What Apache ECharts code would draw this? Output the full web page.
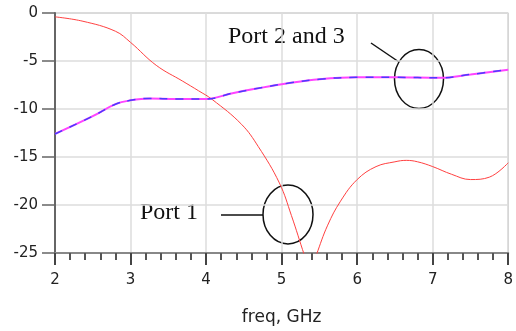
<!DOCTYPE html>
<html>
<head>
<meta charset="utf-8">
<script src="https://cdn.jsdelivr.net/npm/echarts@6/dist/echarts.min.js"></script>
<style>
  html, body { margin: 0; padding: 0; background: #fff; }
  #chart { width: 516px; height: 331px; }
</style>
</head>
<body>
<div id="chart"></div>
<script>
// Port 1 (red)
const port1Freq = [2, 2.37, 2.8, 3, 3.34, 3.69, 3.9, 4.08, 4.47, 4.69, 4.97, 5.13, 5.3, 5.38, 5.46, 5.61, 5.78, 6, 6.25, 6.5, 6.65, 6.8, 7, 7.25, 7.5, 7.75, 8];
const port1Vals = [-0.4, -0.86, -1.9, -3.06, -5.45, -7.1, -8.1, -9.0, -11.6, -13.9, -17.7, -21.1, -25.2, -27, -25.2, -22.1, -19.6, -17.35, -16, -15.5, -15.35, -15.5, -16.0, -16.8, -17.35, -17.1, -15.6];
// Port 2 and 3 (magenta / blue, overlapping)
const port23Freq = [2, 2.5, 2.8, 3, 3.25, 3.6, 4, 4.35, 4.65, 5.1, 5.5, 6, 6.5, 7.1, 7.5, 8];
const port23Vals = [-12.6, -10.75, -9.5, -9.1, -8.9, -8.95, -8.95, -8.35, -7.9, -7.3, -6.9, -6.7, -6.7, -6.75, -6.4, -5.9];

const zip = (xs, ys) => xs.map((x, i) => [x, ys[i]]);

const chart = echarts.init(document.getElementById('chart'));

const option = {
  animation: false,
  backgroundColor: '#fff',
  grid: { left: 55, right: 4, top: 13, bottom: 72, show: true, borderColor: '#aaa', borderWidth: 1 },
  xAxis: {
    type: 'value',
    min: 2, max: 8, interval: 1,
    name: 'freq, GHz',
    nameLocation: 'middle',
    nameGap: 56,
    nameTextStyle: { fontFamily: 'DejaVu Sans', fontSize: 17, color: '#222' },
    axisLine: { show: true, onZero: false, lineStyle: { color: '#888', width: 2 } },
    axisTick: { show: true, length: 12, lineStyle: { color: '#444', width: 2 } },
    minorTick: { show: true, splitNumber: 5, length: 7, lineStyle: { color: '#555', width: 2 } },
    axisLabel: { fontFamily: 'DejaVu Sans', fontSize: 15, color: '#222', margin: 20 },
    splitLine: { show: true, lineStyle: { color: '#ddd', width: 1.5 } }
  },
  yAxis: {
    type: 'value',
    min: -25, max: 0, interval: 5,
    axisLine: { show: true, onZero: false, lineStyle: { color: '#666', width: 2 } },
    axisTick: { show: true, length: 13, lineStyle: { color: '#666', width: 1.5 } },
    axisLabel: { fontFamily: 'DejaVu Sans', fontSize: 15, color: '#222', margin: 17 },
    splitLine: { show: true, lineStyle: { color: '#ddd', width: 1.5 } }
  },
  series: [
    {
      type: 'line', data: zip(port1Freq, port1Vals), smooth: 0.4, symbol: 'none',
      lineStyle: { color: '#ff4040', width: 1 }, clip: true
    },
    {
      type: 'line', data: zip(port23Freq, port23Vals), smooth: 0.4, symbol: 'none',
      lineStyle: { color: '#ff44ff', width: 2 }
    },
    {
      type: 'line', data: zip(port23Freq, port23Vals), smooth: 0.4, symbol: 'none',
      lineStyle: { color: '#4a3cff', width: 1.5, type: [8, 8] }
    }
  ],
  graphic: [
    { type: 'text', left: 228, top: 25, style: { text: 'Port 2 and 3', font: '24px "Liberation Serif"', fill: '#111' } },
    { type: 'line', shape: { x1: 371, y1: 43, x2: 399, y2: 62 }, style: { stroke: '#111', lineWidth: 1.5 } },
    { type: 'ellipse', shape: { cx: 419, cy: 79, rx: 24.5, ry: 29.5 }, style: { fill: 'none', stroke: '#111', lineWidth: 1.5 } },
    { type: 'text', left: 140, top: 201, style: { text: 'Port 1', font: '24px "Liberation Serif"', fill: '#111' } },
    { type: 'line', shape: { x1: 221, y1: 215, x2: 263, y2: 215 }, style: { stroke: '#111', lineWidth: 1.5 } },
    { type: 'ellipse', shape: { cx: 288, cy: 214.5, rx: 25, ry: 29.5 }, style: { fill: 'none', stroke: '#111', lineWidth: 1.5 } }
  ]
};

chart.setOption(option);
</script>
</body>
</html>
